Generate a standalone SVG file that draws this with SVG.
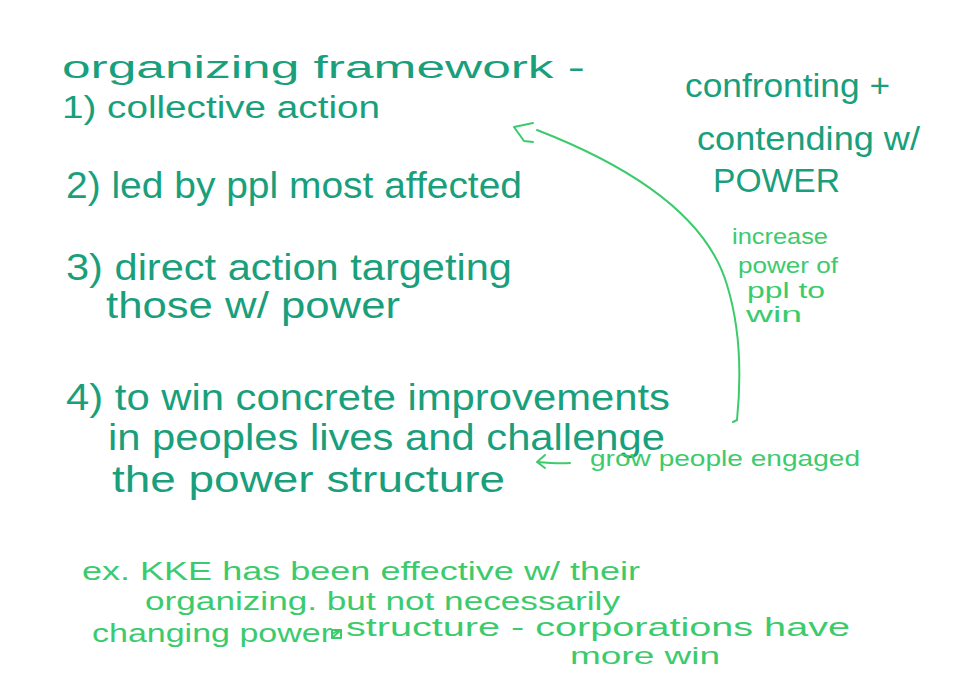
<svg xmlns="http://www.w3.org/2000/svg" width="972" height="680" viewBox="0 0 972 680">
<style>
.main{font-family:"Liberation Sans","DejaVu Sans",sans-serif;font-size:36px;fill:#1a9f7c}
.top{font-size:31px}
.side{font-family:"Liberation Sans","DejaVu Sans",sans-serif;font-size:34px;fill:#1a9f7c}
.note{font-family:"Liberation Sans","DejaVu Sans",sans-serif;font-size:22px;fill:#3ccb6c}
.bot{font-family:"Liberation Sans","DejaVu Sans",sans-serif;font-size:26px;fill:#3ccb6c}
.conn{fill:none;stroke:#3ccb6c;stroke-width:2;stroke-linecap:round;stroke-linejoin:round}
</style>
<rect width="972" height="680" fill="#ffffff"/>
<g id="framework">
<text class="main top" x="62" y="78" textLength="523" lengthAdjust="spacingAndGlyphs">organizing framework -</text>
<text class="main top" x="62" y="118" textLength="318" lengthAdjust="spacingAndGlyphs">1) collective action</text>
<text class="main" x="66" y="198" textLength="456" lengthAdjust="spacingAndGlyphs">2) led by ppl most affected</text>
<text class="main" x="66" y="280" textLength="446" lengthAdjust="spacingAndGlyphs">3) direct action targeting</text>
<text class="main" x="106" y="318" textLength="294" lengthAdjust="spacingAndGlyphs">those w/ power</text>
<text class="main" x="66" y="410" textLength="604" lengthAdjust="spacingAndGlyphs">4) to win concrete improvements</text>
<text class="main" x="108" y="450" textLength="557" lengthAdjust="spacingAndGlyphs">in peoples lives and challenge</text>
<text class="main" x="112" y="492" textLength="393" lengthAdjust="spacingAndGlyphs">the power structure</text>
</g>
<g id="power">
<text class="side" x="685" y="97" textLength="205" lengthAdjust="spacingAndGlyphs">confronting +</text>
<text class="side" x="697" y="150" textLength="223" lengthAdjust="spacingAndGlyphs">contending w/</text>
<text class="side" x="713" y="192" textLength="127" lengthAdjust="spacingAndGlyphs">POWER</text>
</g>
<g id="increase">
<text class="note" x="732" y="244" textLength="96" lengthAdjust="spacingAndGlyphs">increase</text>
<text class="note" x="738" y="273" textLength="100" lengthAdjust="spacingAndGlyphs">power of</text>
<text class="note" x="747" y="298" textLength="78" lengthAdjust="spacingAndGlyphs">ppl to</text>
<text class="note" x="746" y="322" textLength="56" lengthAdjust="spacingAndGlyphs">win</text>
</g>
<g id="grow">
<text class="note" x="590" y="466" textLength="270" lengthAdjust="spacingAndGlyphs">grow people engaged</text>
</g>
<g id="example">
<text class="bot" x="82" y="580" textLength="558" lengthAdjust="spacingAndGlyphs">ex. KKE has been effective w/ their</text>
<text class="bot" x="145" y="610" textLength="475" lengthAdjust="spacingAndGlyphs">organizing. but not necessarily</text>
<text class="bot" x="92" y="642" textLength="240" lengthAdjust="spacingAndGlyphs">changing power</text>
<g class="conn" stroke-width="1.6"><rect x="332" y="630" width="9" height="8"/><path d="M332 638 L341 630 M332 634 L339 630"/></g>
<text class="bot" x="346" y="636" textLength="504" lengthAdjust="spacingAndGlyphs">structure - corporations have</text>
<text class="bot" x="570" y="664" style="font-size:24px" textLength="150" lengthAdjust="spacingAndGlyphs">more win</text>
</g>
<g id="connectors">
<path class="conn" d="M737 420 C741 380 741 330 727 285 C708 220 640 170 537 130"/>
<path class="conn" d="M533 123 L514 127 L524 141 L533 142"/>
<path class="conn" d="M737 420 L733 422"/>
<path class="conn" d="M570 463 C560 464 548 463 537 462 M545 455 L537 462 L545 468"/>
</g>
</svg>
